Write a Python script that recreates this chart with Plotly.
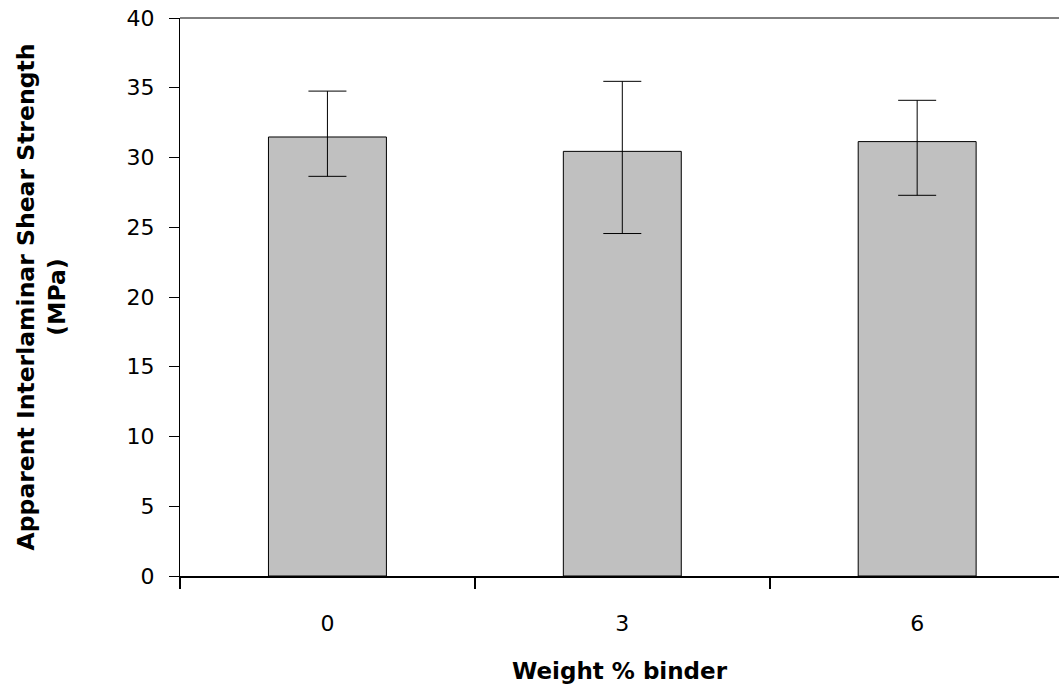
import plotly.graph_objects as go

# Data
categories = ["0", "3", "6"]
shear_strength = [31.47, 30.44, 31.14]
err_plus = [3.29, 5.02, 2.96]
err_minus = [2.82, 5.89, 3.85]

y_tick_vals = [0, 5, 10, 15, 20, 25, 30, 35, 40]
y_tick_text = ["0", "5", "10", "15", "20", "25", "30", "35", "40"]

FONT = "DejaVu Sans"

fig = go.Figure()
fig.add_trace(go.Bar(
    x=categories,
    y=shear_strength,
    width=0.4,
    marker=dict(color="#c0c0c0", line=dict(color="#000000", width=1)),
    error_y=dict(
        type="data",
        symmetric=False,
        array=err_plus,
        arrayminus=err_minus,
        color="#000000",
        thickness=1,
        width=19,
    ),
    showlegend=False,
))

fig.update_layout(
    width=1059,
    height=684,
    margin=dict(l=180, r=0, t=18, b=108, pad=0, autoexpand=False),
    paper_bgcolor="white",
    plot_bgcolor="white",
    font=dict(family=FONT, color="#000000", size=22),
    bargap=0.6,
    xaxis=dict(
        type="category",
        range=[-0.5, 2.481],
        automargin=False,
        showgrid=False,
        zeroline=False,
        showline=True,
        linecolor="#000000",
        linewidth=2,
        ticks="outside",
        tickson="boundaries",
        ticklen=11,
        tickwidth=2,
        tickcolor="#000000",
        tickfont=dict(family=FONT, size=22, color="#000000"),
        ticklabelstandoff=27,
        title=dict(
            text="<b>Weight % binder</b>",
            font=dict(family=FONT, size=23, color="#000000"),
            standoff=32,
        ),
    ),
    yaxis=dict(
        range=[0, 40],
        automargin=False,
        showgrid=False,
        zeroline=False,
        showline=True,
        linecolor="#000000",
        linewidth=1,
        ticks="outside",
        ticklen=10,
        tickwidth=1,
        tickcolor="#000000",
        tickmode="array",
        tickvals=y_tick_vals,
        ticktext=y_tick_text,
        tickfont=dict(family=FONT, size=22, color="#000000"),
        ticklabelstandoff=10,
        title=dict(
            text="<b>Apparent Interlaminar Shear Strength<br>(MPa)</b>",
            font=dict(family=FONT, size=23.5, color="#000000"),
            standoff=54,
        ),
    ),
    shapes=[
        dict(type="line", xref="paper", yref="paper", x0=0, x1=1, y0=1, y1=1,
             line=dict(color="#000000", width=1)),
    ],
)

fig.write_html(
    "out.html",
    config={"displayModeBar": False},
    post_script="document.body.style.margin='0';document.body.style.overflow='hidden';",
)
